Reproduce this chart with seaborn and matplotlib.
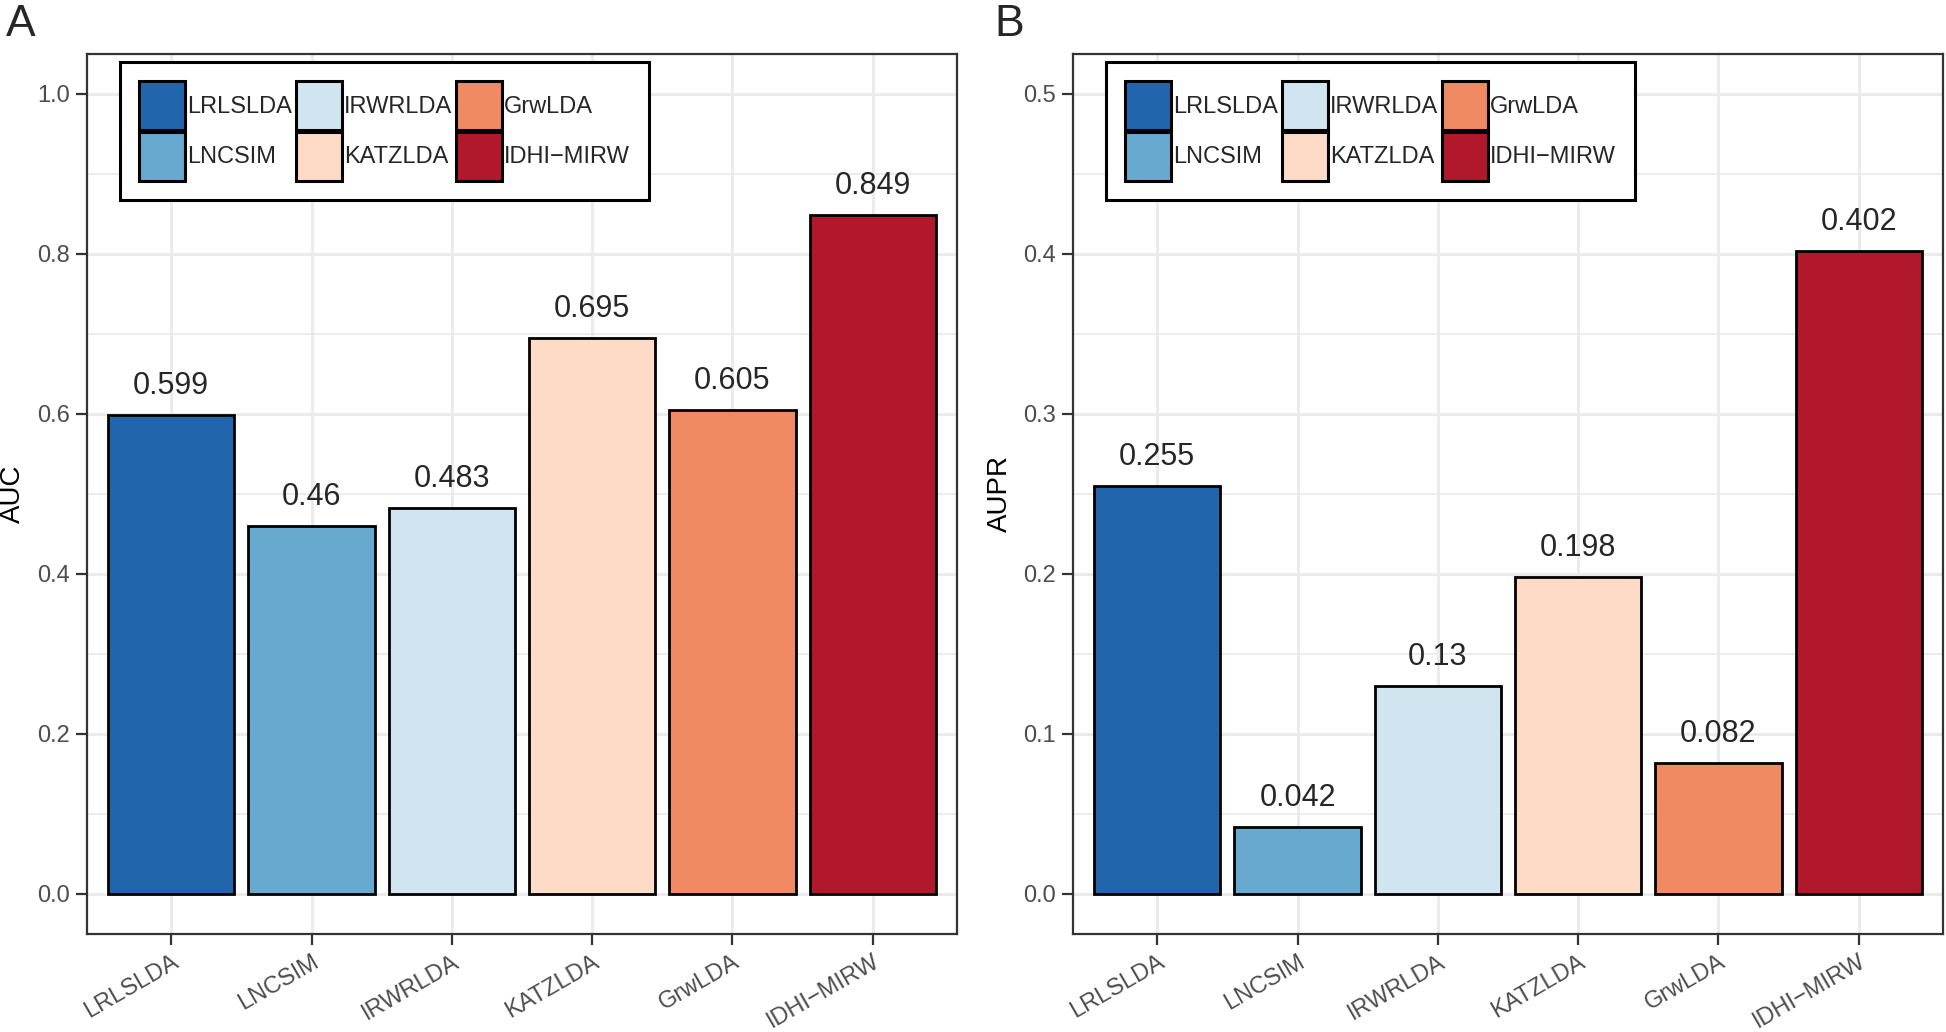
import matplotlib
matplotlib.use("Agg")
import matplotlib.pyplot as plt
import seaborn as sns
import pandas as pd
from matplotlib.patches import Patch
from matplotlib.ticker import MultipleLocator, FormatStrFormatter

# dados
methods = ["LRLSLDA", "LNCSIM", "IRWRLDA", "KATZLDA", "GrwLDA", "IDHI\u2212MIRW"]
auc = [0.599, 0.46, 0.483, 0.695, 0.605, 0.849]
aupr = [0.255, 0.042, 0.13, 0.198, 0.082, 0.402]
auc_labels = ["0.599", "0.46", "0.483", "0.695", "0.605", "0.849"]
aupr_labels = ["0.255", "0.042", "0.13", "0.198", "0.082", "0.402"]
colors = ["#2166AC", "#67A9CF", "#D1E5F0", "#FDDBC7", "#EF8A62", "#B2182B"]

df = pd.DataFrame({"method": methods, "AUC": auc, "AUPR": aupr})

sns.set_theme(style="white")
plt.rcParams["font.family"] = ["Liberation Sans", "DejaVu Sans"]

fig = plt.figure(figsize=(19.46, 10.32), dpi=100)
W, H = 1946, 1032
ax_a = fig.add_axes([87 / W, 1 - 934 / H, 870 / W, 880 / H])
ax_b = fig.add_axes([1073 / W, 1 - 934 / H, 870 / W, 880 / H])


def painel(ax, col, labels, ymax, step):
    sns.barplot(data=df, x="method", y=col, hue="method", palette=colors,
                saturation=1, width=0.9, edgecolor="black", linewidth=2,
                legend=False, ax=ax, zorder=3)
    for cont, lab in zip(ax.containers, labels):
        ax.bar_label(cont, labels=[lab], padding=10, fontsize=22)

    ax.set_xlim(-0.6, len(methods) - 0.4)
    ax.set_ylim(-0.05 * ymax, 1.05 * ymax)
    ax.yaxis.set_major_locator(MultipleLocator(step))
    ax.yaxis.set_minor_locator(MultipleLocator(step / 2))
    ax.yaxis.set_major_formatter(FormatStrFormatter("%.1f"))
    ax.grid(which="major", color="#EBEBEB", linewidth=2.2, zorder=0)
    ax.grid(which="minor", axis="y", color="#EBEBEB", linewidth=1.3, zorder=0)
    ax.set_axisbelow(True)

    for s in ax.spines.values():
        s.set_color("#333333")
        s.set_linewidth(1.6)
    ax.tick_params(which="major", length=8, width=1.6, color="#333333",
                   labelsize=17, labelcolor="#4D4D4D", left=True, bottom=True,
                   pad=4)
    ax.tick_params(which="minor", length=0)
    plt.setp(ax.get_xticklabels(), rotation=30, ha="right",
             rotation_mode="anchor")
    ax.set_xlabel("")
    ax.set_ylabel(col, fontsize=20, color="black", labelpad=8)

    handles = [Patch(facecolor=c, edgecolor="black", linewidth=2.2) for c in colors]
    leg = ax.legend(handles, methods, ncol=3, loc="upper left",
                    bbox_to_anchor=(0.038, 0.991), borderaxespad=0,
                    fontsize=17, frameon=True, fancybox=False,
                    framealpha=1, edgecolor="black", handlelength=1.95,
                    handleheight=2.85, handletextpad=0.1, columnspacing=0.15,
                    labelspacing=0.05, borderpad=0.8)
    leg.get_frame().set_linewidth(2.2)


painel(ax_a, "AUC", auc_labels, 1.0, 0.2)
painel(ax_b, "AUPR", aupr_labels, 0.5, 0.1)

fig.text(6 / W, 1 - 4 / H, "A", fontsize=32, va="top", ha="left")
fig.text(994 / W, 1 - 4 / H, "B", fontsize=32, va="top", ha="left")

fig.savefig("out.png", dpi=100)
